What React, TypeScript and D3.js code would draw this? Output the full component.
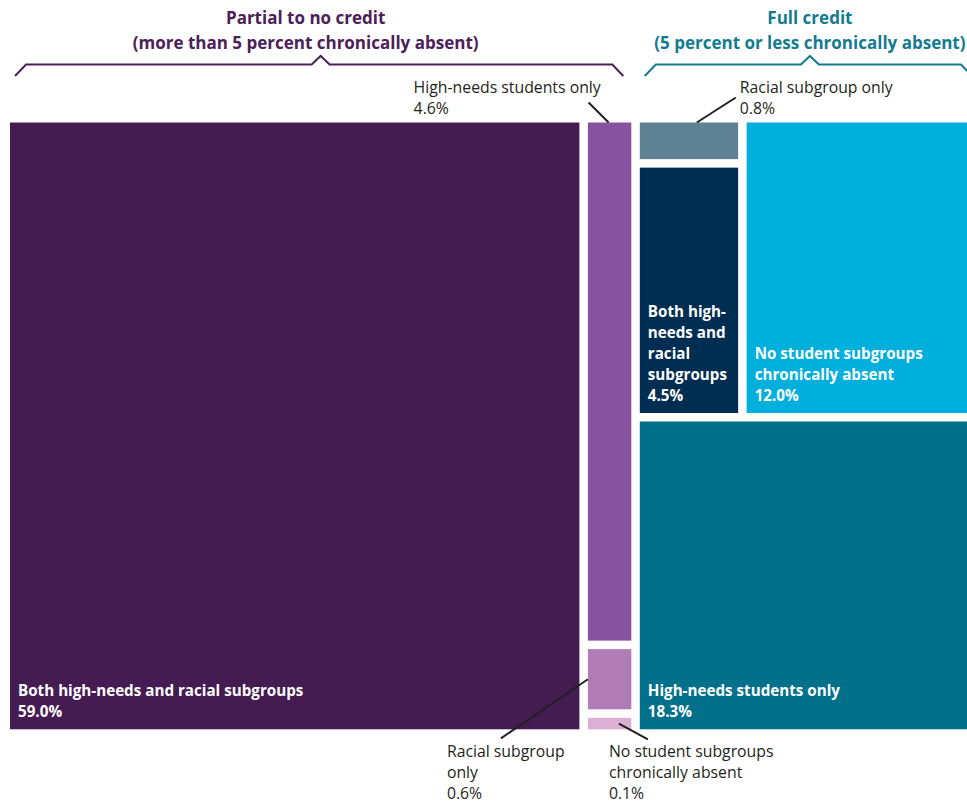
import React from "react";
import * as d3 from "d3";

// ---- Data ----
const groupTitles = ["Partial to no credit", "Full credit"];
const groupSubtitles = [
  "(more than 5 percent chronically absent)",
  "(5 percent or less chronically absent)",
];
const partialLabels = [
  "Both high-needs and racial subgroups",
  "High-needs students only",
  "Racial subgroup only",
  "No student subgroups chronically absent",
];
const partialValues = [59.0, 4.6, 0.6, 0.1];
const fullLabels = [
  "Racial subgroup only",
  "Both high-needs and racial subgroups",
  "No student subgroups chronically absent",
  "High-needs students only",
];
const fullValues = [0.8, 4.5, 12.0, 18.3];

const colors: Record<string, string> = {
  p0: "#451c52",
  p1: "#8752a0",
  p2: "#b07cb5",
  p3: "#dbb0d4",
  f0: "#5e8294",
  f1: "#002d52",
  f2: "#00afdb",
  f3: "#00708b",
};

type N = { id: string; dir?: "h" | "v"; value?: number; children?: N[] };

const tree: N = {
  id: "root",
  dir: "h",
  children: [
    {
      id: "partial",
      dir: "h",
      children: [
        { id: "p0", value: partialValues[0] },
        {
          id: "pcol",
          dir: "v",
          children: [
            { id: "p1", value: partialValues[1] },
            { id: "p2", value: partialValues[2] },
            { id: "p3", value: partialValues[3] },
          ],
        },
      ],
    },
    {
      id: "full",
      dir: "v",
      children: [
        {
          id: "ftop",
          dir: "h",
          children: [
            {
              id: "fcol",
              dir: "v",
              children: [
                { id: "f0", value: fullValues[0] },
                { id: "f1", value: fullValues[1] },
              ],
            },
            { id: "f2", value: fullValues[2] },
          ],
        },
        { id: "f3", value: fullValues[3] },
      ],
    },
  ],
};

const MIN_PX = 20;
function sliceMin(parent: any, x0: number, y0: number, x1: number, y1: number) {
  const nodes = parent.children;
  const total = y1 - y0;
  const k = total / parent.value;
  const fixed = nodes.map((n: any) => n.value * k < MIN_PX);
  const nFixed = fixed.filter(Boolean).length;
  const restVal = d3.sum(nodes.filter((_: any, i: number) => !fixed[i]), (n: any) => n.value);
  const k2 = (total - nFixed * MIN_PX) / restVal;
  let y = y0;
  nodes.forEach((n: any, i: number) => {
    n.x0 = x0;
    n.x1 = x1;
    n.y0 = y;
    y += fixed[i] ? MIN_PX : n.value * k2;
    n.y1 = y;
  });
}

function tile(node: any, x0: number, y0: number, x1: number, y1: number) {
  if (node.data.dir === "h") d3.treemapDice(node, x0, y0, x1, y1);
  else sliceMin(node, x0, y0, x1, y1);
}

const X0 = 10;
const X1 = 980;
const Y0 = 122.5;
const Y1 = 729.3;

const FONT = "'Open Sans', 'Noto Sans', sans-serif";
const DARK = "#231f20";

export default function App() {
  const root = d3
    .hierarchy<N>(tree)
    .sum((d) => d.value ?? 0);
  d3
    .treemap<N>()
    .tile(tile as any)
    .size([X1 - X0, Y1 - Y0])
    .paddingInner(8.5)
    .round(false)(root);

  const leaves = root.leaves() as any[];
  const byId: Record<string, any> = {};
  root.descendants().forEach((d: any) => {
    byId[d.data.id] = {
      x0: d.x0 + X0,
      x1: d.x1 + X0,
      y0: d.y0 + Y0,
      y1: d.y1 + Y0,
    };
  });

  const fmt = d3.format(".1f");
  const labelOf = (id: string) => {
    const i = +id[1];
    return id[0] === "p" ? partialLabels[i] : fullLabels[i];
  };
  const valOf = (id: string) => {
    const i = +id[1];
    return id[0] === "p" ? partialValues[i] : fullValues[i];
  };

  // internal labels (line-wrapped)
  const inner: Record<string, string[]> = {
    p0: [labelOf("p0")],
    f1: ["Both high-", "needs and", "racial", "subgroups"],
    f2: ["No student subgroups", "chronically absent"],
    f3: [labelOf("f3")],
  };

  const LH = 21;
  const FSB = 15.2;
  const FSR = 15.8;

  const groupIds = ["partial", "full"];
  const groupColors = ["#4c2058", "#137b90"];
  const titleDx = [-15, 0];

  const bottom = byId["root"].y1;

  return (
    <svg
      width={967}
      height={803}
      style={{ position: "absolute", left: 0, top: 0, background: "#fff" }}
      fontFamily={FONT}
    >
      {/* group titles and brackets */}
      {groupIds.map((g, gi) => {
        const b = byId[g];
        const cx = (b.x0 + b.x1) / 2;
        const l = b.x0 + 5;
        const r = b.x1 - 8;
        const path = d3.path();
        path.moveTo(l, 76);
        path.lineTo(l + 11, 64.5);
        path.lineTo(cx - 9, 64.5);
        path.lineTo(cx, 56);
        path.lineTo(cx + 9, 64.5);
        path.lineTo(r - 11, 64.5);
        path.lineTo(r, 76);
        return (
          <g key={g}>
            <text
              x={cx + titleDx[gi]}
              y={24}
              textAnchor="middle"
              fontWeight={700}
              fontSize={17}
              fill={groupColors[gi]}
            >
              {groupTitles[gi]}
            </text>
            <text
              x={cx + titleDx[gi]}
              y={49}
              textAnchor="middle"
              fontWeight={700}
              fontSize={17}
              fill={groupColors[gi]}
            >
              {groupSubtitles[gi]}
            </text>
            <path d={path.toString()} fill="none" stroke={groupColors[gi]} strokeWidth={2} />
          </g>
        );
      })}

      {/* cells */}
      {leaves.map((d: any) => {
        const b = byId[d.data.id];
        return (
          <rect
            key={d.data.id}
            x={b.x0}
            y={b.y0}
            width={b.x1 - b.x0}
            height={b.y1 - b.y0}
            fill={colors[d.data.id]}
          />
        );
      })}

      {/* inner labels */}
      {Object.keys(inner).map((id) => {
        const b = byId[id];
        const lines = [...inner[id], fmt(valOf(id)) + "%"];
        const lastY = b.y1 - 12;
        return (
          <text key={id} fill="#fff" fontWeight={700} fontSize={FSB}>
            {lines.map((t, i) => (
              <tspan key={i} x={b.x0 + 8} y={lastY - (lines.length - 1 - i) * LH}>
                {t}
              </tspan>
            ))}
          </text>
        );
      })}

      {/* external labels with leader lines */}
      {(() => {
        const p1 = byId["p1"];
        const f0 = byId["f0"];
        const p2 = byId["p2"];
        const p3 = byId["p3"];
        const p1cx = (p1.x0 + p1.x1) / 2;
        const p2cy = (p2.y0 + p2.y1) / 2;
        const p3cy = (p3.y0 + p3.y1) / 2;
        const ext = [
          {
            lines: [labelOf("p1"), fmt(valOf("p1")) + "%"],
            x: p1cx - 196,
            y: p1.y0 - 30,
            line: [p1cx - 21, p1.y0 - 20, p1cx - 1, p1.y0],
          },
          {
            lines: [labelOf("f0"), fmt(valOf("f0")) + "%"],
            x: f0.x0 + 100,
            y: f0.y0 - 30,
            line: [f0.x0 + 96, f0.y0 - 25, f0.x0 + 57, f0.y0],
          },
          {
            lines: ["Racial subgroup", "only", fmt(valOf("p2")) + "%"],
            x: p2.x0 - 141,
            y: bottom + 28,
            line: [p2.x0 - 87, bottom + 9, p2.x0, p2cy],
          },
          {
            lines: ["No student subgroups", "chronically absent", fmt(valOf("p3")) + "%"],
            x: p3.x0 + 21,
            y: bottom + 28,
            line: [p3.x0 + 31, p3cy, p3.x0 + 60, bottom + 10],
          },
        ];
        return ext.map((e, i) => (
          <g key={i}>
            <line
              x1={e.line[0]}
              y1={e.line[1]}
              x2={e.line[2]}
              y2={e.line[3]}
              stroke={DARK}
              strokeWidth={2}
            />
            <text fill={DARK} fontSize={FSR}>
              {e.lines.map((t, j) => (
                <tspan key={j} x={e.x} y={e.y + j * LH}>
                  {t}
                </tspan>
              ))}
            </text>
          </g>
        ));
      })()}
    </svg>
  );
}
